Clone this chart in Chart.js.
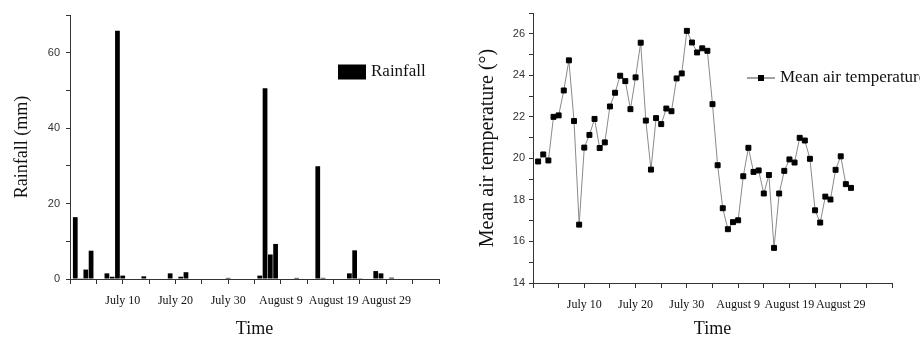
<!DOCTYPE html>
<html>
<head>
<meta charset="utf-8">
<script src="https://cdn.jsdelivr.net/npm/chart.js@4.4.1/dist/chart.umd.min.js"></script>
<style>
  html, body { margin: 0; padding: 0; background: #fff; }
  #wrap { position: relative; width: 920px; height: 338px; overflow: hidden; }
  .panel { position: absolute; top: 0; width: 460px; height: 338px; }
</style>
</head>
<body>
<div id="wrap">
  <div class="panel" style="left:0"><canvas id="rain" width="460" height="338"></canvas></div>
  <div class="panel" style="left:460px"><canvas id="temp" width="460" height="338"></canvas></div>
</div>
<script>
// days counted from June 30 (day 0): July 10 = day 10, August 9 = day 40
const rainDays = [1, 2, 3, 4, 7, 8, 9, 10, 14, 19, 21, 22, 30, 36, 37, 38, 39, 43, 47, 48, 53, 54, 55, 58, 59, 61];
const rainValues = [16.4, 0.2, 2.5, 7.5, 1.5, 0.6, 65.8, 0.9, 0.7, 1.5, 0.6, 1.8, 0.3, 0.9, 50.6, 6.5, 9.3, 0.3, 29.9, 0.3, 1.5, 7.6, 0.2, 2.1, 1.5, 0.35];

const tempDays = [1, 2, 3, 4, 5, 6, 7, 8, 9, 10, 11, 12, 13, 14, 15, 16, 17, 18, 19, 20,
  21, 22, 23, 24, 25, 26, 27, 28, 29, 30, 31, 32, 33, 34, 35, 36, 37, 38, 39, 40,
  41, 42, 43, 44, 45, 46, 47, 48, 49, 50, 51, 52, 53, 54, 55, 56, 57, 58, 59, 60, 61, 62];
const tempValues = [19.85, 20.19, 19.9, 22.0, 22.07, 23.27, 24.72, 21.8, 16.81, 20.52,
  21.13, 21.9, 20.5, 20.77, 22.5, 23.16, 23.98, 23.72, 22.37, 23.9,
  25.57, 21.82, 19.46, 21.94, 21.65, 22.4, 22.27, 23.85, 24.09, 26.14,
  25.58, 25.1, 25.3, 25.18, 22.61, 19.67, 17.6, 16.59, 16.93, 17.02,
  19.14, 20.51, 19.35, 19.42, 18.31, 19.2, 15.69, 18.31, 19.4, 19.95,
  19.8, 20.99, 20.86, 19.98, 17.5, 16.91, 18.16, 18.02, 19.45, 20.1,
  18.76, 18.58];

const tickDays = [10, 20, 30, 40, 50, 60];
const tickNames = ['July 10', 'July 20', 'July 30', 'August 9', 'August 19', 'August 29'];

const axisColor = '#333';
const serif = '"Liberation Serif", "Times New Roman", serif';
const sans = '"Liberation Sans", Arial, sans-serif';

// simple legend drawn inside the chart area
const fakeLegend = {
  id: 'fakeLegend',
  afterDraw(chart, args, opts) {
    const ctx = chart.ctx;
    const ds = chart.data.datasets[0];
    const x = chart.chartArea.left + opts.x;
    const y = chart.chartArea.top + opts.y;
    ctx.save();
    if (opts.kind === 'box') {
      ctx.fillStyle = ds.backgroundColor;
      ctx.fillRect(x, y - 7.5, 28, 15);
    } else {
      ctx.strokeStyle = '#444';
      ctx.lineWidth = 1;
      ctx.beginPath();
      ctx.moveTo(x, y);
      ctx.lineTo(x + 28, y);
      ctx.stroke();
      ctx.fillStyle = '#000';
      ctx.fillRect(x + 14 - 3, y - 3, 6, 6);
    }
    ctx.fillStyle = '#111';
    ctx.font = '17px ' + serif;
    ctx.textBaseline = 'middle';
    ctx.fillText(ds.label, x + 33, y);
    ctx.restore();
  }
};

const timeAxis = (height, pad) => ({
  type: 'linear',
  min: 0,
  max: 70,
  offset: false,
  border: { color: axisColor, width: 1 },
  grid: { drawOnChartArea: false, offset: false, tickLength: 5, color: axisColor },
  ticks: {
    stepSize: 5,
    autoSkip: false,
    maxRotation: 0,
    padding: pad,
    color: '#111',
    font: { family: serif, size: 12 },
    callback: v => {
      const i = tickDays.indexOf(v);
      return i < 0 ? '' : tickNames[i];
    }
  },
  title: {
    display: true,
    text: 'Time',
    color: '#111',
    font: { family: serif, size: 18, lineHeight: 1 },
    padding: { top: 0, bottom: 0 }
  },
  afterFit: s => { s.height = height; }
});

new Chart(document.getElementById('rain'), {
  type: 'bar',
  data: {
    datasets: [{
      label: 'Rainfall',
      data: rainDays.map((d, i) => ({ x: d, y: rainValues[i] })),
      backgroundColor: '#000',
      borderWidth: 0,
      barPercentage: 1,
      categoryPercentage: 0.9
    }]
  },
  options: {
    responsive: false,
    animation: false,
    layout: { padding: { top: 15, right: 21, left: 0, bottom: 0 } },
    plugins: {
      legend: { display: false },
      tooltip: { enabled: false },
      fakeLegend: { kind: 'box', x: 268, y: 57 }
    },
    scales: {
      x: timeAxis(59, 10),
      y: {
        min: 0,
        max: 70,
        border: { color: axisColor, width: 1 },
        grid: { drawOnChartArea: false, tickLength: 4, color: axisColor },
        ticks: {
          stepSize: 10,
          padding: 6,
          color: '#333',
          font: { family: sans, size: 11 },
          callback: v => (v % 20 === 0 ? v : '')
        },
        title: {
          display: true,
          text: 'Rainfall (mm)',
          color: '#111',
          font: { family: serif, size: 18 },
          padding: { top: 11, bottom: 0 }
        },
        afterFit: s => { s.width = 70; }
      }
    }
  },
  plugins: [fakeLegend]
});

new Chart(document.getElementById('temp'), {
  type: 'line',
  data: {
    datasets: [{
      label: 'Mean air temperature',
      data: tempDays.map((d, i) => ({ x: d, y: tempValues[i] })),
      borderColor: '#8a8a8a',
      borderWidth: 1,
      pointStyle: 'rect',
      pointRadius: 3.5,
      pointBackgroundColor: '#000',
      pointBorderColor: '#000',
      pointBorderWidth: 1,
      tension: 0
    }]
  },
  options: {
    responsive: false,
    animation: false,
    layout: { padding: { top: 13, right: 28, left: 0, bottom: 0 } },
    plugins: {
      legend: { display: false },
      tooltip: { enabled: false },
      fakeLegend: { kind: 'line', x: 214, y: 65 }
    },
    scales: {
      x: timeAxis(55, 10),
      y: {
        min: 14,
        max: 27,
        border: { color: axisColor, width: 1 },
        grid: { drawOnChartArea: false, tickLength: 4, color: axisColor },
        ticks: {
          stepSize: 1,
          padding: 4,
          color: '#333',
          font: { family: sans, size: 11 },
          callback: v => (v % 2 === 0 ? v : '')
        },
        title: {
          display: true,
          text: 'Mean air temperature (°)',
          color: '#111',
          font: { family: serif, size: 20 },
          padding: { top: 16, bottom: 0 }
        },
        afterFit: s => { s.width = 73; }
      }
    }
  },
  plugins: [fakeLegend]
});
</script>
</body>
</html>
